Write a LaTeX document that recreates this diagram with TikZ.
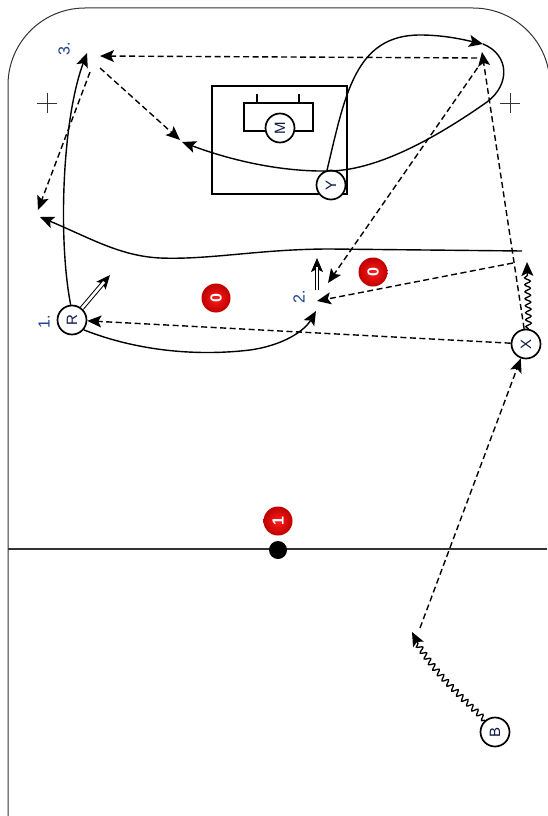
\documentclass[tikz,border=0pt]{standalone}
\usepackage{fontspec}
\setmainfont{Liberation Sans}
\usetikzlibrary{arrows.meta,decorations.pathmorphing}
\definecolor{lblue}{RGB}{25,65,140}
\definecolor{navy}{RGB}{15,25,70}
\definecolor{pred}{RGB}{255,30,30}
\definecolor{pdark}{RGB}{190,0,0}
\begin{document}
\begin{tikzpicture}[x=1pt,y=-1pt,
  rink/.style={line width=1pt, draw=black!80},
  player/.style={circle, draw, line width=1.7pt, fill=white, minimum size=29pt, inner sep=0pt, text=navy, font=\fontsize{15}{15}\selectfont},
  lbl/.style={text=lblue, font=\fontsize{16}{16}\selectfont, rotate=90, inner sep=0pt},
  puck/.style={circle, shading=radial, inner color=pred, outer color=pdark, minimum size=29pt, inner sep=0pt, text=white, font=\bfseries\fontsize{16}{16}\selectfont, rotate=90},
  arr/.style={-{Stealth[length=14pt,width=12pt,inset=3pt]}},
  skate/.style={line width=1.4pt},
  pass/.style={line width=1.4pt, dash pattern=on 6pt off 3.5pt},
  wavy/.style={line width=1.3pt, decorate, decoration={snake, amplitude=2.8pt, segment length=7pt, post length=12pt}},
  dbl/.style={line width=1pt, double, double distance=2.6pt, shorten >=9pt}
]
\useasboundingbox (0,0) rectangle (547,816);
% rink
\draw[rink, rounded corners=77pt] (8,816) -- (8,8) -- (550,8) -- (550,816);
\draw[rink, line width=1.4pt] (8,549) -- (547,549);
\draw[rink] (37,103) -- (57,103) (47,93) -- (47,113);
\draw[rink] (500,103) -- (520,103) (510,93) -- (510,113);
% net
\draw[line width=1.1pt] (212,86) rectangle (347,194);
\draw[line width=1.1pt] (244,103) rectangle (313,131);
\draw[line width=1.1pt] (257,94) -- (257,103) (299,94) -- (299,103);
% players
\node[player] (M) at (280,128) {\rotatebox{90}{M}};
\node[player] (Y) at (331,185) {\rotatebox{90}{Y}};
\node[player] (R) at (72,320) {\rotatebox{90}{R}};
\node[player] (X) at (526,344) {\rotatebox{90}{X}};
\node[player] (B) at (495,732) {\rotatebox{90}{B}};
% pucks and labels
\node[puck] (p0a) at (216,298) {0};
\node[puck] (p0b) at (373,272) {0};
\node[puck] (p1) at (278,521) {1};
\node[circle, fill=black, minimum size=18pt, inner sep=0pt] (dot) at (278,550) {};
\node[lbl] (l1) at (44,322) {1.};
\node[lbl] (l2) at (299,297) {2.};
\node[lbl] (l3) at (64,49) {3.};
% coordinates
\coordinate (c3a) at (87,53);
\coordinate (p3b) at (90,72);
\coordinate (p3c) at (100,68);
\coordinate (p3d) at (100,56);
\coordinate (tl) at (38,210);
\coordinate (mid) at (180,140);
\coordinate (trA) at (477,58);
\coordinate (trB) at (482,52);
\coordinate (trC) at (483,60);
\coordinate (loop) at (483,44);
\coordinate (back) at (182,142);
\coordinate (two) at (328,283);
\coordinate (twoB) at (317,301);
\coordinate (rr) at (513,263);
\coordinate (wv) at (527,262);
\coordinate (long1) at (522,251);
\coordinate (long2) at (40,217);
\coordinate (skR) at (316,311);
\coordinate (bend) at (412,632);
\coordinate (bpass) at (420,628);
\coordinate (d1a) at (317,290);
\coordinate (d1b) at (317,258);
\coordinate (d2b) at (110,275);
% skating paths
\draw[skate,arr] (R.95) .. controls (58,240) and (62,120) .. (c3a);
\draw[skate,arr] (Y.105) .. controls (345,95) and (355,35) .. (420,35) .. controls (445,35) and (465,40) .. (loop);
\draw[skate,arr] (loop) .. controls (510,55) and (510,85) .. (487,102) .. controls (440,135) and (380,170) .. (330,171) .. controls (280,172) and (230,160) .. (back);
\draw[skate,arr] (long1) -- (330,249) .. controls (260,249) and (210,260) .. (160,258) .. controls (120,256) and (90,238) .. (long2);
\draw[skate,arr] (R.-40) .. controls (140,352) and (200,356) .. (250,350) .. controls (285,345) and (305,330) .. (skR);
% passes
\draw[pass,arr] (p3b) -- (tl);
\draw[pass,arr] (p3c) -- (mid);
\draw[pass,arr] (trA) -- (p3d);
\draw[pass,arr] (trC) -- (two);
\draw[pass,arr] (X.97) -- (trB);
\draw[pass,arr] (X) -- (R);
\draw[pass,arr] (rr) -- (twoB);
\draw[pass,arr] (bpass) -- (X.-110);
% stickhandling
\draw[wavy,arr] (X.80) -- (wv);
\draw[wavy,arr] (B.130) .. controls (460,695) and (430,670) .. (bend);
% shots / double arrows
\draw[line width=1pt, arr] (d1a) -- (d1b);
\draw[dbl] (d1a) -- (d1b);
\draw[line width=1pt, arr] (R.50) -- (d2b);
\draw[dbl] (R.50) -- (d2b);
\end{tikzpicture}
\end{document}
